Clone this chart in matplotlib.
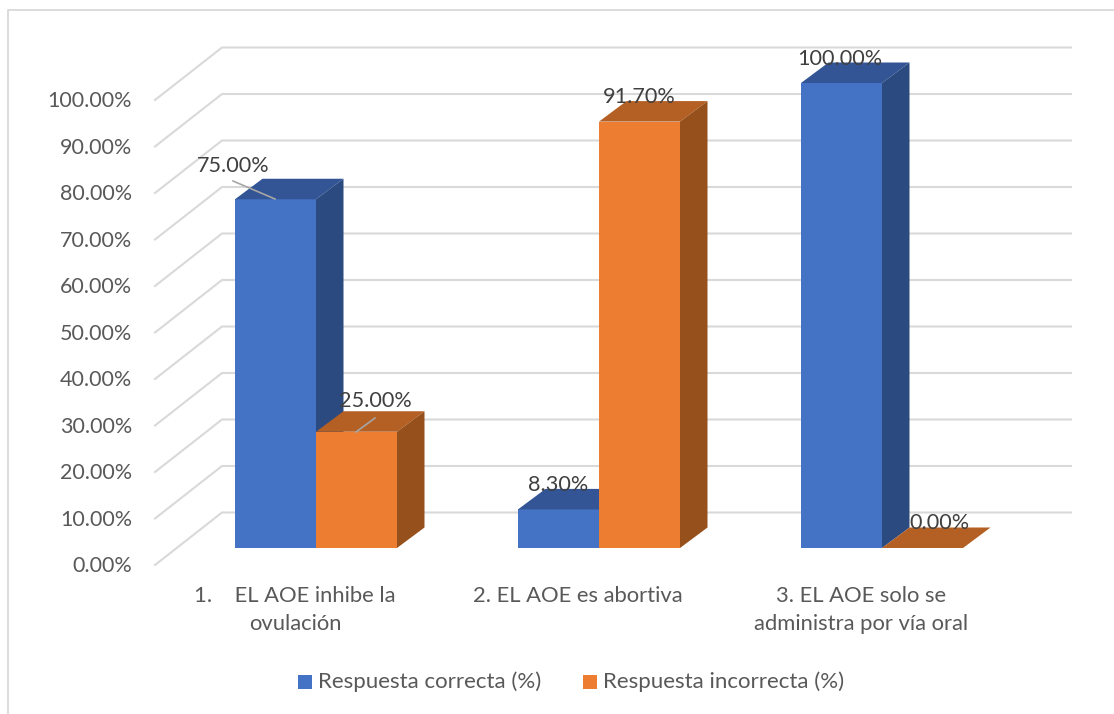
import matplotlib
matplotlib.use('Agg')
import matplotlib.pyplot as plt

plt.rcParams['font.family'] = ['Lato', 'DejaVu Sans']

categories = ['1.    EL AOE inhibe la\novulación',
              '2. EL AOE es abortiva',
              '3. EL AOE solo se\nadministra por vía oral']
correct = [75.0, 8.3, 100.0]
incorrect = [25.0, 91.7, 0.0]
series_names = ['Respuesta correcta (%)', 'Respuesta incorrecta (%)']
ticks = [0, 10, 20, 30, 40, 50, 60, 70, 80, 90, 100]

W, H = 1114, 714
# picture scale: where a value lands on the front plane of the bars
X0, X_STEP = 316, 283
Y0, Y_STEP = 548, 4.65


def px(x, y):
    '''pixel position of the reference -> data position'''
    return (x - X0) / X_STEP, (Y0 - y) / Y_STEP


fig = plt.figure(figsize=(W / 100, H / 100), dpi=100)
ax = fig.add_axes([0, 0, 1, 1])
ax.set_xlim(px(0, 0)[0], px(W, 0)[0])
ax.set_ylim(px(0, H)[1], px(0, 0)[1])
ax.axis('off')

bar_w = 81 / X_STEP
depth_x = 27.5 / X_STEP
depth_y = 20.5 / Y_STEP

# picture border, no right edge
bx, by = px(8, 10)
bx2, by2 = px(W, H)
ax.plot([bx, bx, bx2], [by2, by, by], color='#D9D9D9', lw=1.3, zorder=1)

# walls: each gridline runs along the side wall and then along the back
wall_front = px(155, 0)[0]
wall_back = px(222, 0)[0]
wall_end = px(1071, 0)[0]
front_zero = px(0, 565)[1]
back_zero = px(0, 512.5)[1]
for t in ticks:
    yf = front_zero + t
    yb = back_zero + t
    ax.plot([wall_front, wall_back, wall_end], [yf, yb, yb], color='#D9D9D9',
            lw=1.5, zorder=1, solid_joinstyle='miter')
    ax.text(px(132, 0)[0], yf - 0.25, f'{t:.2f}%', ha='right', va='center',
            fontsize=15.5, color='#595959')


def draw_bar(x, value, front, top, side):
    ax.bar(x, value, width=bar_w, align='edge', color=front, zorder=3)
    ax.fill([x, x + depth_x, x + bar_w + depth_x, x + bar_w],
            [value, value + depth_y, value + depth_y, value], color=top, lw=0, zorder=3)
    ax.fill([x + bar_w, x + bar_w + depth_x, x + bar_w + depth_x, x + bar_w],
            [0, depth_y, value + depth_y, value], color=side, lw=0, zorder=3)


for i in range(len(categories)):
    draw_bar(i - bar_w, correct[i], '#4472C4', '#335595', '#2A4A80')
    draw_bar(i, incorrect[i], '#ED7D31', '#B45F23', '#96501B')

# data labels, moved by hand like in the original
label_pos = [(233, 166), (558, 485), (840, 59), (375, 401), (639, 97), (939, 523)]
values = correct + incorrect
for v, (lx, ly) in zip(values, label_pos):
    x, y = px(lx, ly)
    ax.text(x, y, f'{v:.2f}%', ha='center', va='center', fontsize=15.6,
            color='#404040', zorder=5)

# leader lines of the two labels that were dragged away
for (x1, y1), (x2, y2) in [((233, 181), (275, 199)), ((356, 432), (375, 418))]:
    a, b = px(x1, y1), px(x2, y2)
    ax.plot([a[0], b[0]], [a[1], b[1]], color='#A6A6A6', lw=1.2, zorder=5)

# category labels sit left of the bars' middle
for i, name in enumerate(categories):
    x = i - 21 / X_STEP
    ax.text(x, px(0, 586)[1], name, ha='center', va='top', fontsize=15.8,
            color='#595959', linespacing=1.5)

for lx, color, name in [(298, '#4472C4', series_names[0]), (583, '#ED7D31', series_names[1])]:
    a = px(lx, 689)
    ax.bar(a[0], 14 / Y_STEP, width=14 / X_STEP, bottom=a[1], align='edge', color=color)
    b = px(lx + 20, 682)
    ax.text(b[0], b[1], name, ha='left', va='center', fontsize=16, color='#595959')

fig.savefig('out.png', dpi=100)
